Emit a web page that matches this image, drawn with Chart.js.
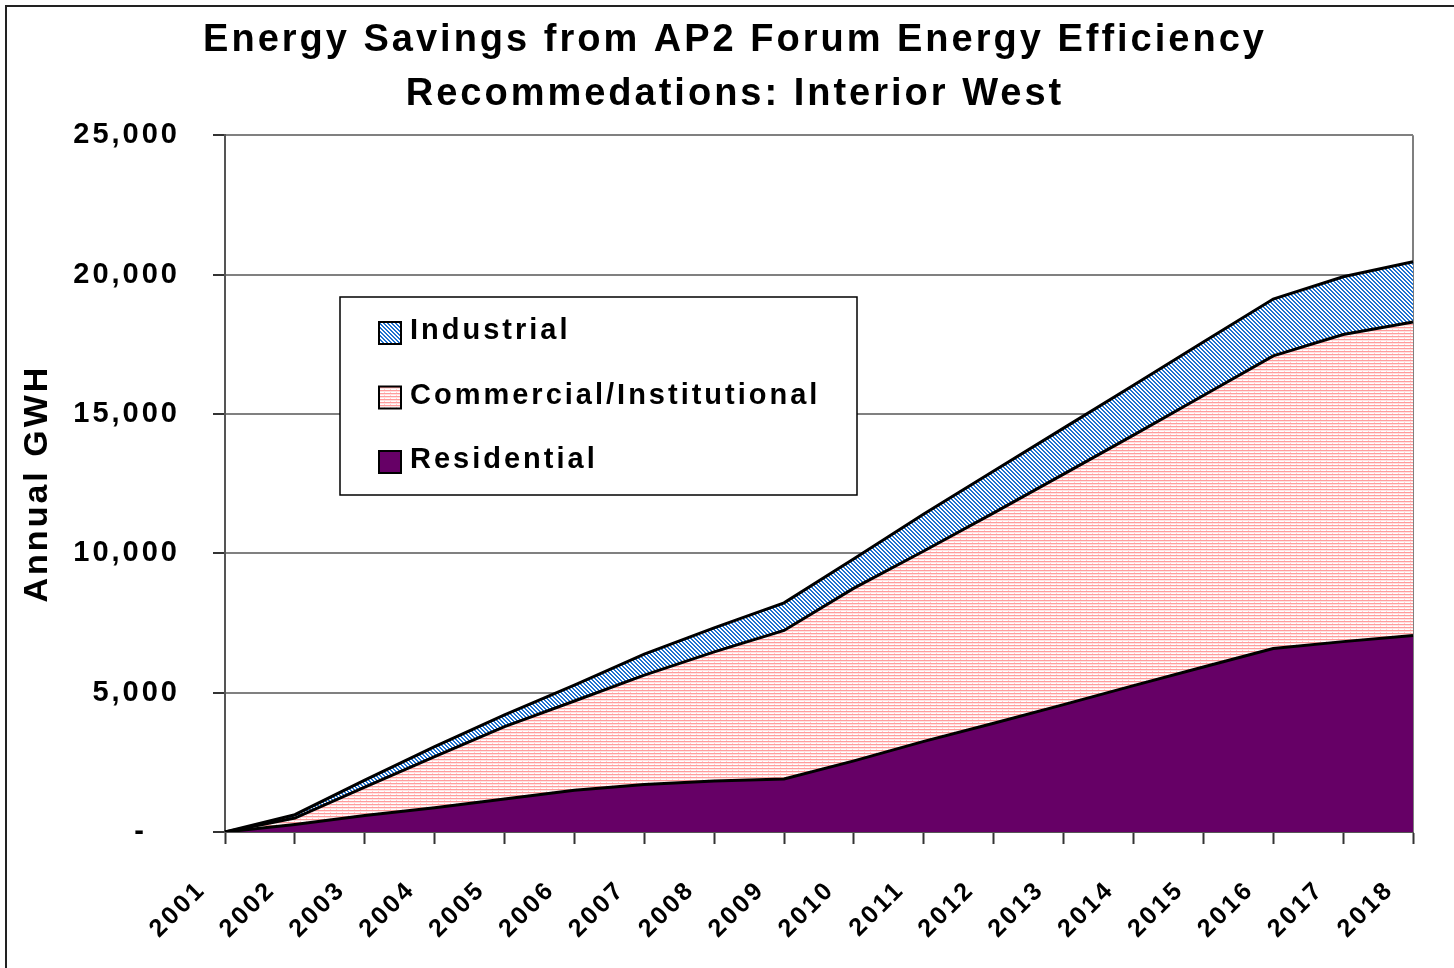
<!DOCTYPE html>
<html>
<head>
<meta charset="utf-8">
<script src="https://cdn.jsdelivr.net/npm/chart.js@4.4.1/dist/chart.umd.min.js"></script>
<style>
    html, body { margin: 0; padding: 0; background: #fff; }
    #wrap { position: relative; width: 1454px; height: 968px; overflow: hidden; }
    #frame { position: absolute; left: 5px; top: 5px; width: 1470px; height: 990px; border: 2px solid #222; pointer-events: none; }
</style>
</head>
<body>
<div id="wrap">
    <canvas id="savingsChart" width="1454" height="968"></canvas>
    <div id="frame"></div>
</div>
<script>
// --- Data (GWH) ---
const years = ['2001', '2002', '2003', '2004', '2005', '2006', '2007', '2008', '2009',
               '2010', '2011', '2012', '2013', '2014', '2015', '2016', '2017', '2018'];
const residential = [0, 270, 590, 870, 1180, 1500, 1700, 1830, 1900,
                     2550, 3250, 3900, 4570, 5250, 5920, 6580, 6830, 7050];
const commercial = [0, 230, 1020, 1830, 2600, 3200, 3930, 4630, 5330,
                    6200, 6830, 7550, 8270, 8990, 9740, 10500, 11020, 11250];
const industrial = [0, 120, 250, 360, 420, 570, 750, 860, 990,
                    1050, 1330, 1500, 1650, 1790, 1920, 2040, 2070, 2160];

// --- Fill patterns ---
function makePattern(w, h, paint) {
    const c = document.createElement('canvas');
    c.width = w;
    c.height = h;
    const g = c.getContext('2d');
    g.fillStyle = '#fff';
    g.fillRect(0, 0, w, h);
    paint(g);
    return document.getElementById('savingsChart').getContext('2d').createPattern(c, 'repeat');
}

// blue "\\\" hatch
const hatchBlue = makePattern(4, 4, g => {
    g.fillStyle = '#1f72d0';
    for (let y = 0; y < 4; y++) {
        for (let x = 0; x < 4; x++) {
            if (((x - y) % 4 + 4) % 4 < 2) g.fillRect(x, y, 1, 1);
        }
    }
});

// fine pink horizontal lines
const linesPink = makePattern(6, 3, g => {
    g.fillStyle = '#ff9c9c';
    g.fillRect(0, 0, 6, 1);
    g.fillStyle = '#ffe2e2';
    g.fillRect(0, 1, 6, 1);
    g.fillStyle = '#ffd0d0';
    g.fillRect(0, 2, 1, 1);
});

const purple = '#660066';

// --- Plugins ---
// letter spacing like the original (canvas state resets on resize, so set it often)
const spacingPlugin = {
    id: 'spacing',
    beforeUpdate: chart => { chart.ctx.letterSpacing = '3px'; },
    beforeLayout: chart => { chart.ctx.letterSpacing = '3px'; },
    beforeDraw: chart => { chart.ctx.letterSpacing = '3px'; }
};

// right edge of the plot frame
const framePlugin = {
    id: 'plotFrame',
    beforeDatasetsDraw: chart => {
        const { ctx, chartArea } = chart;
        ctx.save();
        ctx.strokeStyle = '#7f7f7f';
        ctx.lineWidth = 2;
        ctx.beginPath();
        ctx.moveTo(chartArea.right, chartArea.top);
        ctx.lineTo(chartArea.right, chartArea.bottom);
        ctx.stroke();
        ctx.restore();
    }
};

// boxed legend sitting inside the plot
const boxLegendPlugin = {
    id: 'boxLegend',
    afterDraw: chart => {
        const ctx = chart.ctx;
        const box = { x: 340, y: 297, w: 517, h: 198 };
        ctx.save();
        ctx.fillStyle = '#fff';
        ctx.fillRect(box.x, box.y, box.w, box.h);
        ctx.strokeStyle = '#000';
        ctx.lineWidth = 1.5;
        ctx.strokeRect(box.x, box.y, box.w, box.h);

        const sets = chart.data.datasets.slice().reverse();
        ctx.font = 'bold 29px "Liberation Sans", Arial, sans-serif';
        ctx.textBaseline = 'middle';
        ctx.textAlign = 'left';
        sets.forEach((ds, i) => {
            const cy = 333 + i * 64.5;
            ctx.fillStyle = ds.backgroundColor;
            ctx.fillRect(379, cy - 11, 22, 22);
            ctx.strokeStyle = '#000';
            ctx.lineWidth = 2;
            ctx.strokeRect(379, cy - 11, 22, 22);
            ctx.fillStyle = '#000';
            ctx.fillText(ds.label, 410, cy - 2);
        });
        ctx.restore();
    }
};

Chart.defaults.font.family = '"Liberation Sans", Arial, sans-serif';
Chart.defaults.color = '#000';

const ctx = document.getElementById('savingsChart');
new Chart(ctx, {
    type: 'line',
    data: {
        labels: years,
        datasets: [
            {
                label: 'Residential',
                data: residential,
                backgroundColor: purple,
                borderColor: '#000',
                borderWidth: 3,
                fill: 'origin',
                tension: 0,
                pointRadius: 0
            },
            {
                label: 'Commercial/Institutional',
                data: commercial,
                backgroundColor: linesPink,
                borderColor: '#000',
                borderWidth: 3,
                fill: '-1',
                tension: 0,
                pointRadius: 0
            },
            {
                label: 'Industrial',
                data: industrial,
                backgroundColor: hatchBlue,
                borderColor: '#000',
                borderWidth: 3,
                fill: '-1',
                tension: 0,
                pointRadius: 0
            }
        ]
    },
    options: {
        responsive: false,
        animation: false,
        layout: {
            padding: { left: 57, right: 41, top: 0, bottom: 0 }
        },
        plugins: {
            legend: { display: false },
            tooltip: { enabled: false },
            title: {
                display: true,
                text: ['Energy Savings from AP2 Forum Energy Efficiency', 'Recommedations: Interior West'],
                font: { size: 38, weight: 'bold', lineHeight: 1.41 },
                padding: { top: 14, bottom: 14 },
                color: '#000'
            }
        },
        scales: {
            x: {
                offset: false,
                afterFit: scale => {
                    scale.height = 136;
                    scale.paddingLeft = 0;
                    scale.paddingRight = 0;
                },
                grid: {
                    drawOnChartArea: false,
                    drawTicks: true,
                    tickLength: 12,
                    tickColor: '#333',
                    tickWidth: 2
                },
                border: { color: '#555', width: 2 },
                ticks: {
                    autoSkip: false,
                    maxRotation: 45,
                    minRotation: 45,
                    padding: 31,
                    labelOffset: -23,
                    font: { size: 25, weight: 'bold' },
                    color: '#000'
                }
            },
            y: {
                stacked: true,
                min: 0,
                max: 25000,
                afterFit: scale => { scale.width = 168; },
                grid: {
                    color: '#808080',
                    lineWidth: 2,
                    tickLength: 12,
                    tickColor: '#333'
                },
                border: { color: '#555', width: 2 },
                ticks: {
                    stepSize: 5000,
                    padding: 33,
                    font: { size: 29, weight: 'bold' },
                    color: '#000',
                    callback: value => value === 0 ? '-   ' : value.toLocaleString('en-US')
                },
                title: {
                    display: true,
                    text: 'Annual GWH',
                    font: { size: 34, weight: 'bold' },
                    padding: { top: -40, bottom: 0 },
                    color: '#000'
                }
            }
        }
    },
    plugins: [spacingPlugin, framePlugin, boxLegendPlugin]
});
</script>
</body>
</html>
